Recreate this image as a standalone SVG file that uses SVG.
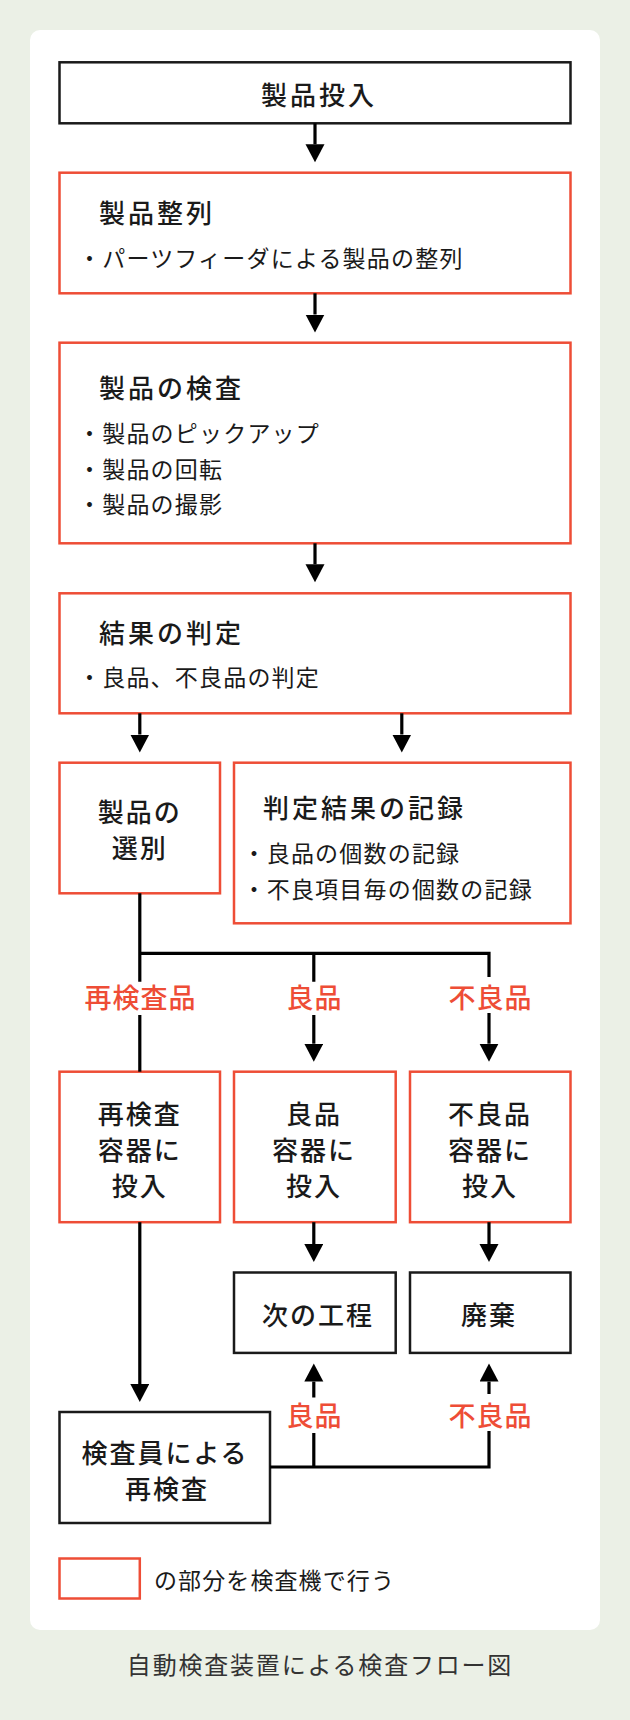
<svg xmlns="http://www.w3.org/2000/svg" width="630" height="1720" viewBox="0 0 630 1720">
  <defs>
    <style>
      .bg { fill: #ebf0e6; }
      .panel { fill: #ffffff; }
      .bk { fill: #ffffff; stroke: #1a1a1a; stroke-width: 2.5; }
      .rd { fill: #ffffff; stroke: #ee4d36; stroke-width: 2.5; }
      text { font-family: "Noto Sans CJK JP", "Noto Sans", sans-serif; fill: #1a1a1a; dominant-baseline: central; }
      .title { font-size: 26px; letter-spacing: 3px; font-weight: 500; }
      .body { font-size: 23px; letter-spacing: 1.2px; }
      .big { font-size: 26px; letter-spacing: 2px; font-weight: 500; text-anchor: middle; }
      .lbl { font-size: 27px; font-weight: 500; fill: #ee4d36; text-anchor: middle; letter-spacing: 1px; }
      .cap { font-size: 24px; fill: #333333; text-anchor: middle; letter-spacing: 1.8px; }
      .ln { fill: none; stroke: #000000; stroke-width: 3.2; }
    </style>
    <marker id="ah" markerUnits="userSpaceOnUse" markerWidth="20" markerHeight="20" refX="0" refY="9.5" orient="auto">
      <path d="M0,0 L18,9.5 L0,19 z" fill="#000000"/>
    </marker>
  </defs>

  <rect class="bg" x="0" y="0" width="630" height="1720"/>
  <rect class="panel" x="30" y="30" width="570" height="1600" rx="10"/>

  <g id="n-input">
    <rect class="bk" x="59.5" y="62.3" width="511" height="61"/>
    <text class="big" x="319" y="93" style="letter-spacing:3px">製品投入</text>
  </g>

  <g id="n-align">
    <rect class="rd" x="59.5" y="172.7" width="511" height="120.6"/>
    <text class="title" x="99" y="211.7">製品整列</text>
    <text class="body" x="78" y="256.7">・パーツフィーダによる製品の整列</text>
  </g>

  <g id="n-inspect">
    <rect class="rd" x="59.5" y="342.7" width="511" height="200.6"/>
    <text class="title" x="99" y="386">製品の検査</text>
    <text class="body" x="78" y="431.7">・製品のピックアップ</text>
    <text class="body" x="78" y="468.3">・製品の回転</text>
    <text class="body" x="78" y="503.3">・製品の撮影</text>
  </g>

  <g id="n-judge">
    <rect class="rd" x="59.5" y="593.3" width="511" height="120"/>
    <text class="title" x="99" y="631.7">結果の判定</text>
    <text class="body" x="78" y="676">・良品、不良品の判定</text>
  </g>

  <g id="n-sort">
    <rect class="rd" x="59.5" y="762.7" width="160.5" height="130.6"/>
    <text class="big" x="139.8" y="810">製品の</text>
    <text class="big" x="139.8" y="846">選別</text>
  </g>

  <g id="n-record">
    <rect class="rd" x="234" y="762.7" width="336.5" height="160.6"/>
    <text class="title" x="263" y="806">判定結果の記録</text>
    <text class="body" x="242.5" y="851.7">・良品の個数の記録</text>
    <text class="body" x="242.5" y="888.3">・不良項目毎の個数の記録</text>
  </g>

  <g id="n-recheck-bin">
    <rect class="rd" x="59.5" y="1071.7" width="160.5" height="150.5"/>
    <text class="big" x="139.8" y="1112.7">再検査</text>
    <text class="big" x="139.8" y="1148">容器に</text>
    <text class="big" x="139.8" y="1184">投入</text>
  </g>

  <g id="n-good-bin">
    <rect class="rd" x="234" y="1071.7" width="161.7" height="150.5"/>
    <text class="big" x="314" y="1112.7">良品</text>
    <text class="big" x="314" y="1148">容器に</text>
    <text class="big" x="314" y="1184">投入</text>
  </g>

  <g id="n-bad-bin">
    <rect class="rd" x="410" y="1071.7" width="160.5" height="150.5"/>
    <text class="big" x="490" y="1112.7">不良品</text>
    <text class="big" x="490" y="1148">容器に</text>
    <text class="big" x="490" y="1184">投入</text>
  </g>

  <g id="n-next">
    <rect class="bk" x="234" y="1272.5" width="161.7" height="80.4"/>
    <text class="big" x="318" y="1313.6">次の工程</text>
  </g>

  <g id="n-discard">
    <rect class="bk" x="410" y="1272.5" width="160.5" height="80.4"/>
    <text class="big" x="489" y="1313.6">廃棄</text>
  </g>

  <g id="n-manual">
    <rect class="bk" x="59.5" y="1412" width="210.5" height="111"/>
    <text class="big" x="165" y="1451">検査員による</text>
    <text class="big" x="167" y="1487">再検査</text>
  </g>

  <g id="connectors">
    <line class="ln" x1="315" y1="123.3" x2="315" y2="144.3" marker-end="url(#ah)"/>
    <line class="ln" x1="315" y1="293.3" x2="315" y2="314.5" marker-end="url(#ah)"/>
    <line class="ln" x1="315" y1="543.3" x2="315" y2="564.3" marker-end="url(#ah)"/>
    <line class="ln" x1="139.8" y1="713.3" x2="139.8" y2="734.5" marker-end="url(#ah)"/>
    <line class="ln" x1="401.8" y1="713.3" x2="401.8" y2="734.5" marker-end="url(#ah)"/>

    <path class="ln" d="M139.8,893.3 V981.7 M139.8,953.3 H489 V977 M313.8,953.3 V981.7"/>
    <line class="ln" x1="139.8" y1="1015" x2="139.8" y2="1071.7"/>
    <line class="ln" x1="313.8" y1="1015" x2="313.8" y2="1043.7" marker-end="url(#ah)"/>
    <line class="ln" x1="489" y1="1013" x2="489" y2="1043.7" marker-end="url(#ah)"/>

    <line class="ln" x1="313.8" y1="1222.2" x2="313.8" y2="1244" marker-end="url(#ah)"/>
    <line class="ln" x1="489" y1="1222.2" x2="489" y2="1244" marker-end="url(#ah)"/>
    <line class="ln" x1="139.8" y1="1222.2" x2="139.8" y2="1384" marker-end="url(#ah)"/>

    <path class="ln" d="M270,1467 H489 V1431 M313.8,1467 V1433"/>
    <line class="ln" x1="313.8" y1="1397.5" x2="313.8" y2="1381.6" marker-end="url(#ah)"/>
    <line class="ln" x1="489" y1="1394" x2="489" y2="1381.6" marker-end="url(#ah)"/>

    <text class="lbl" x="140.5" y="996.7">再検査品</text>
    <text class="lbl" x="314.5" y="996.7">良品</text>
    <text class="lbl" x="490.5" y="996.7">不良品</text>
    <text class="lbl" x="314.5" y="1414">良品</text>
    <text class="lbl" x="490.5" y="1414">不良品</text>
  </g>

  <g id="legend">
    <rect class="rd" x="59.5" y="1558.5" width="80.3" height="40"/>
    <text class="body" x="154" y="1578.6" style="letter-spacing:1.1px">の部分を検査機で行う</text>
  </g>

  <text class="cap" x="320" y="1663">自動検査装置による検査フロー図</text>
</svg>
